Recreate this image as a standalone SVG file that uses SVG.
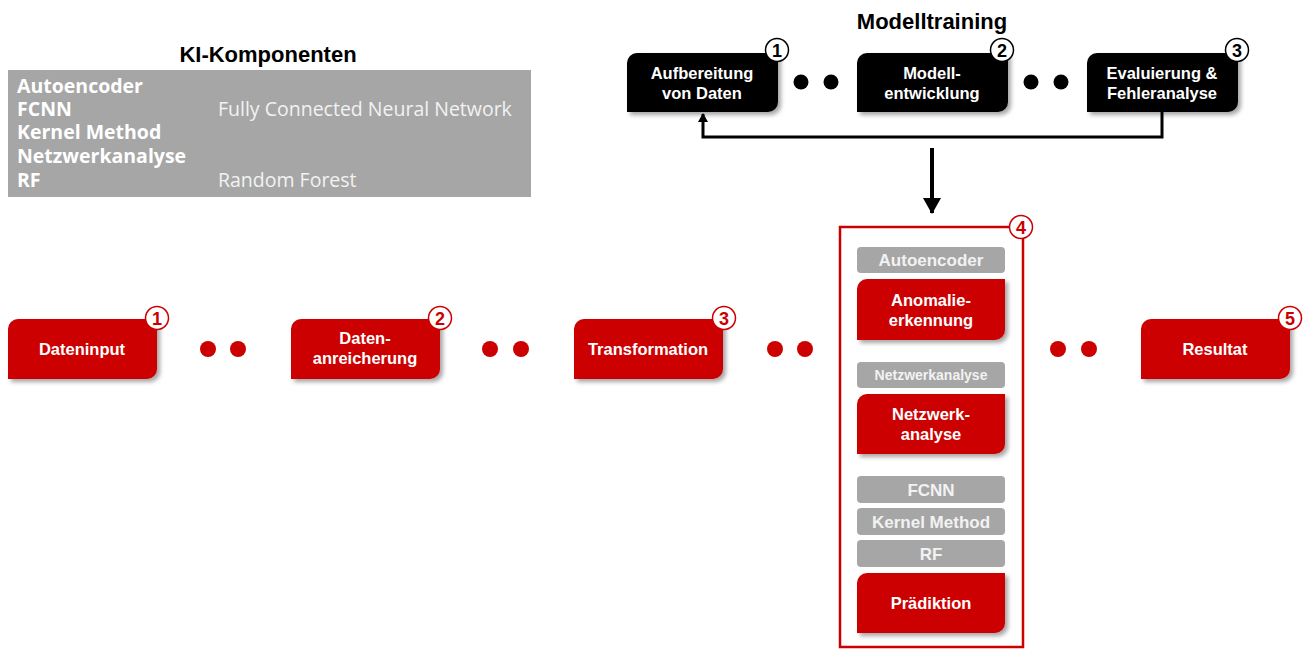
<svg xmlns="http://www.w3.org/2000/svg" width="1312" height="650" viewBox="0 0 1312 650">
<defs>
<filter id="sh" x="-10%" y="-10%" width="130%" height="140%">
<feDropShadow dx="3" dy="3" stdDeviation="2" flood-color="#000" flood-opacity="0.35"/>
</filter>
<marker id="ah" viewBox="0 0 16 18" refX="15" refY="9" markerWidth="16" markerHeight="18" markerUnits="userSpaceOnUse" orient="auto">
<path d="M0,0 L16,9 L0,18 Z" fill="#000"/>
</marker>
<marker id="ah2" viewBox="0 0 9 10" refX="8" refY="5" markerWidth="9" markerHeight="10" markerUnits="userSpaceOnUse" orient="auto">
<path d="M0,0 L9,5 L0,10 Z" fill="#000"/>
</marker>
</defs>
<style>
.title{font-family:"Liberation Sans",Arial,sans-serif;font-weight:bold;font-size:22px;fill:#000;text-anchor:middle}
.red{fill:#cc0000;filter:url(#sh)}
.blk{fill:#000;filter:url(#sh)}
.lbl{font-family:"Liberation Sans",Arial,sans-serif;font-weight:bold;font-size:16.5px;fill:#fff;text-anchor:middle}
.glbl{font-family:"Liberation Sans",Arial,sans-serif;font-weight:bold;font-size:17px;fill:#f2f2f2;text-anchor:middle}
.gbox{fill:#a6a6a6}
.bR{fill:#fff;stroke:#cc0000;stroke-width:1.5}
.bK{fill:#fff;stroke:#000;stroke-width:1.5}
.nR{font-family:"Liberation Sans",Arial,sans-serif;font-weight:bold;font-size:18px;fill:#cc0000;text-anchor:middle}
.nK{font-family:"Liberation Sans",Arial,sans-serif;font-weight:bold;font-size:18px;fill:#000;text-anchor:middle}
.kb{font-family:"Open Sans","Noto Sans",sans-serif;font-weight:bold;font-size:19.5px;fill:#fff}
.kl{font-family:"Open Sans","Noto Sans",sans-serif;font-size:19.5px;fill:#f2f2f2}
.dr{fill:#cc0000}
.dk{fill:#000}
</style>

<g id="ki-komponenten">
<text class="title" x="268" y="62">KI-Komponenten</text>
<rect x="8" y="70" width="523" height="127" fill="#a6a6a6"/>
<text class="kb" x="17" y="93">Autoencoder</text>
<text class="kb" x="17" y="116">FCNN</text>
<text class="kl" x="218" y="116">Fully Connected Neural Network</text>
<text class="kb" x="17" y="139">Kernel Method</text>
<text class="kb" x="17" y="163">Netzwerkanalyse</text>
<text class="kb" x="17" y="187">RF</text>
<text class="kl" x="218" y="187">Random Forest</text>
</g>

<g id="modelltraining-title">
<text class="title" x="932" y="29">Modelltraining</text>
</g>

<g id="connectors">
<polyline points="1162,112 1162,137 703,137 703,114" fill="none" stroke="#000" stroke-width="3" marker-end="url(#ah2)"/>
<line x1="932" y1="148" x2="932" y2="213" stroke="#000" stroke-width="4" marker-end="url(#ah)"/>
<circle class="dk" cx="801" cy="82" r="7.5"/>
<circle class="dk" cx="831" cy="82" r="7.5"/>
<circle class="dk" cx="1031" cy="82" r="7.5"/>
<circle class="dk" cx="1061" cy="82" r="7.5"/>
<circle class="dr" cx="208" cy="349" r="8"/>
<circle class="dr" cx="238" cy="349" r="8"/>
<circle class="dr" cx="490" cy="349" r="8"/>
<circle class="dr" cx="521" cy="349" r="8"/>
<circle class="dr" cx="775" cy="349" r="8"/>
<circle class="dr" cx="805" cy="349" r="8"/>
<circle class="dr" cx="1058" cy="349" r="8"/>
<circle class="dr" cx="1089" cy="349" r="8"/>
</g>

<g id="aufbereitung">
<path class="blk" d="M637,53 H778 V102 A10,10 0 0 1 768,112 H627 V63 A10,10 0 0 1 637,53 Z"/>
<text class="lbl" x="702" y="79">Aufbereitung</text>
<text class="lbl" x="702" y="99">von Daten</text>
<circle class="bK" cx="777" cy="50" r="11.5"/>
<text class="nK" x="777" y="56.5">1</text>
</g>

<g id="modellentwicklung">
<path class="blk" d="M867,53 H1008 V102 A10,10 0 0 1 998,112 H857 V63 A10,10 0 0 1 867,53 Z"/>
<text class="lbl" x="932" y="79">Modell-</text>
<text class="lbl" x="932" y="99">entwicklung</text>
<circle class="bK" cx="1002" cy="50" r="11.5"/>
<text class="nK" x="1002" y="56.5">2</text>
</g>

<g id="evaluierung">
<path class="blk" d="M1097,53 H1238 V102 A10,10 0 0 1 1228,112 H1087 V63 A10,10 0 0 1 1097,53 Z"/>
<text class="lbl" x="1162" y="79">Evaluierung &amp;</text>
<text class="lbl" x="1162" y="99">Fehleranalyse</text>
<circle class="bK" cx="1237" cy="50" r="11.5"/>
<text class="nK" x="1237" y="56.5">3</text>
</g>

<g id="dateninput">
<path class="red" d="M18,319 H157 V369 A10,10 0 0 1 147,379 H8 V329 A10,10 0 0 1 18,319 Z"/>
<text class="lbl" x="82" y="355">Dateninput</text>
<circle class="bR" cx="157" cy="318" r="11.5"/>
<text class="nR" x="157" y="324.5">1</text>
</g>

<g id="datenanreicherung">
<path class="red" d="M301,319 H440 V369 A10,10 0 0 1 430,379 H291 V329 A10,10 0 0 1 301,319 Z"/>
<text class="lbl" x="365" y="344">Daten-</text>
<text class="lbl" x="365" y="364">anreicherung</text>
<circle class="bR" cx="440" cy="318" r="11.5"/>
<text class="nR" x="440" y="324.5">2</text>
</g>

<g id="transformation">
<path class="red" d="M584,319 H723 V369 A10,10 0 0 1 713,379 H574 V329 A10,10 0 0 1 584,319 Z"/>
<text class="lbl" x="648" y="355">Transformation</text>
<circle class="bR" cx="724" cy="318" r="11.5"/>
<text class="nR" x="724" y="324.5">3</text>
</g>

<g id="ki-modelle">
<rect x="840" y="227" width="183" height="420" fill="#fff" stroke="#cc0000" stroke-width="2.5"/>
<circle class="bR" cx="1021" cy="227" r="11.5"/>
<text class="nR" x="1021" y="233.5">4</text>
<rect class="gbox" x="857" y="247" width="148" height="26" rx="4"/>
<text class="glbl" x="931" y="266">Autoencoder</text>
<path class="red" d="M867,279 H1005 V330 A10,10 0 0 1 995,340 H857 V289 A10,10 0 0 1 867,279 Z"/>
<text class="lbl" x="931" y="306">Anomalie-</text>
<text class="lbl" x="931" y="326">erkennung</text>
<rect class="gbox" x="857" y="362" width="148" height="26" rx="4"/>
<text class="glbl" x="931" y="380" style="font-size:14px">Netzwerkanalyse</text>
<path class="red" d="M867,394 H1005 V444 A10,10 0 0 1 995,454 H857 V404 A10,10 0 0 1 867,394 Z"/>
<text class="lbl" x="931" y="420">Netzwerk-</text>
<text class="lbl" x="931" y="440">analyse</text>
<rect class="gbox" x="857" y="476" width="148" height="27" rx="4"/>
<text class="glbl" x="931" y="496">FCNN</text>
<rect class="gbox" x="857" y="508" width="148" height="27" rx="4"/>
<text class="glbl" x="931" y="528">Kernel Method</text>
<rect class="gbox" x="857" y="540" width="148" height="27" rx="4"/>
<text class="glbl" x="931" y="560">RF</text>
<path class="red" d="M867,573 H1005 V623 A10,10 0 0 1 995,633 H857 V583 A10,10 0 0 1 867,573 Z"/>
<text class="lbl" x="931" y="609">Prädiktion</text>
</g>

<g id="resultat">
<path class="red" d="M1151,319 H1290 V369 A10,10 0 0 1 1280,379 H1141 V329 A10,10 0 0 1 1151,319 Z"/>
<text class="lbl" x="1215" y="355">Resultat</text>
<circle class="bR" cx="1290" cy="318" r="11.5"/>
<text class="nR" x="1290" y="324.5">5</text>
</g>
</svg>
